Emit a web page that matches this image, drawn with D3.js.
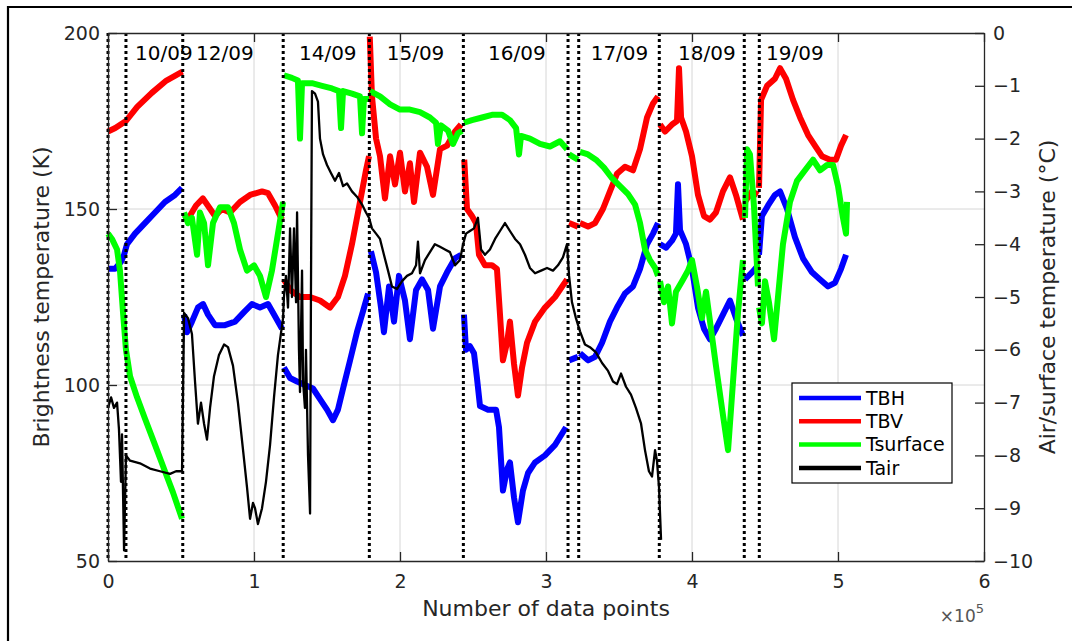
<!DOCTYPE html>
<html><head><meta charset="utf-8">
<script src="https://cdn.jsdelivr.net/npm/d3@7"></script>
<style>body{margin:0;background:#fff}</style>
</head><body>
<svg id="c" width="1072" height="641"></svg>
<script>
// ---------- data ----------
const X_TICKS = [0, 100000, 200000, 300000, 400000, 500000, 600000];
const LEFT_TICKS = [50, 100, 150, 200];
const RIGHT_TICKS = [-10, -9, -8, -7, -6, -5, -4, -3, -2, -1, 0];
const BREAKS = [0, 12300, 51200, 120000, 179000, 243400, 315100, 322400, 377600, 435800, 446100];
const DATE_LABELS = ["10/09", "12/09", "14/09", "15/09", "16/09", "17/09", "18/09", "19/09"];
const DATE_POS = [18500, 60300, 130800, 190900, 260300, 330600, 390400, 450700];
const SERIES_NAMES = ["TBH", "TBV", "Tsurface", "Tair"];

// Brightness temperature H (K), segments
const TBH = [
 [[0,133],[4800,133],[8900,135],[11000,137],[13000,140],[18500,143],[25300,146],[32200,149],[39000,152],[45900,154],[50700,156]],
 [[52100,120],[54100,115],[57500,118],[61600,122],[65100,123],[68500,120],[73300,117],[80100,117],[87000,118],[93800,121],[98600,123],[104100,122],[109600,123],[113700,120],[119200,116]],
 [[120500,105],[124700,102],[129500,101],[134900,100],[140400,99],[145200,96],[150000,93],[154100,90],[157500,93],[161600,100],[165800,107],[170500,115],[174700,121],[178100,126]],
 [[180100,138],[183600,132],[187000,122],[189000,115],[192500,128],[195900,118],[199300,131],[203400,124],[206800,113],[211000,127],[215100,130],[219200,127],[222600,116],[227400,128],[232200,132],[237700,136],[241800,137]],
 [[243800,120],[245200,110],[247900,111],[250700,109],[252700,102],[254800,94],[260300,93],[265800,93],[267800,88],[270500,70],[273300,76],[275300,78],[278100,68],[280800,61],[284200,70],[287700,75],[292500,78],[299300,80],[306200,83],[313700,88]],
 [[315800,107],[321900,108]],
 [[323300,109],[328800,107],[333600,108],[338400,112],[343800,118],[348600,122],[354100,126],[359600,128],[364400,133],[369200,140],[373300,143],[376700,146]],
 [[378100,140],[382200,139],[386300,141],[389000,143],[390400,157],[391800,144],[395900,140],[400000,133],[404100,122],[408200,116],[412300,113],[416400,116],[421200,120],[426000,124],[430100,119],[434900,114]],
 [[436300,130],[441100,132],[445200,134]],
 [[445900,137],[447900,148],[452100,151],[456800,154],[460300,155],[465100,150],[470500,142],[476000,136],[482200,132],[487700,130],[493200,128],[497900,129],[502100,133],[505500,137]]
];

// Brightness temperature V (K), segments
const TBV = [
 [[0,172],[5000,173],[12300,175],[20000,179],[30000,183],[40000,186.5],[51000,189]],
 [[52000,147],[56000,148],[60300,151],[65000,153],[70000,150],[73300,148],[78000,150],[83600,149],[90400,152],[97300,154],[105500,155],[109600,154.5],[114400,151],[119200,147]],
 [[120500,130],[124700,127],[131500,125],[138400,125],[145200,124],[152000,122],[157500,125],[162300,131],[167100,140],[172600,152],[176700,161],[178800,165]],
 [[179300,199],[180800,182],[183600,170],[186300,165],[189700,153],[193200,165],[196600,157],[200000,166],[203400,155],[206800,163],[209600,152],[213700,166],[218500,162],[222600,154],[227400,167],[232200,168],[237700,172],[241800,174]],
 [[244000,164],[245900,150],[249300,148],[252000,146],[254100,137],[258200,134],[263000,134],[266400,133],[268500,120],[270500,107],[273300,112],[275300,118],[278100,106],[280800,97],[283600,105],[287000,112],[292500,118],[299300,122],[306200,125],[314400,130]],
 [[315800,146],[321900,145]],
 [[323300,146],[328800,145],[333600,146],[339000,150],[343800,155],[348600,160],[354100,162],[359600,161],[364400,167],[369200,176],[373300,180],[376700,182]],
 [[378100,174],[381500,172],[386300,174],[389700,175],[391100,190],[392500,176],[395900,172],[400000,165],[404100,154],[408200,148],[412300,147],[416400,149],[421200,155],[426000,159],[430100,154],[434900,147]],
 [[436300,152],[441100,155],[445200,154]],
 [[445900,156],[447300,181],[451400,185],[456800,187],[460300,190],[464400,187],[469200,181],[474000,176],[479500,171],[484200,168],[489000,165],[494500,164],[498600,164],[502100,168],[505500,171]]
];

// Surface temperature (°C), segments
const TSURF = [
 [[0,-3.8],[2700,-3.9],[6200,-4.1],[8200,-4.5],[10300,-5.3],[12300,-6.0],[15100,-6.5],[19900,-6.9],[25300,-7.3],[32200,-7.8],[39000,-8.3],[44500,-8.7],[50700,-9.2]],
 [[52100,-3.4],[54800,-3.6],[57500,-3.5],[61000,-4.2],[63000,-3.4],[65800,-3.6],[68500,-4.4],[71900,-3.6],[76700,-3.3],[82200,-3.3],[86300,-3.6],[90400,-4.1],[95200,-4.5],[100000,-4.4],[104100,-4.6],[108200,-5.0],[112300,-4.5],[116400,-3.8],[119900,-3.2]],
 [[120500,-0.8],[126000,-0.85],[130100,-0.9],[131500,-2.0],[132900,-0.95],[139700,-0.95],[146600,-1.0],[153400,-1.05],[158200,-1.1],[159600,-1.8],[161000,-1.1],[167100,-1.15],[172600,-1.2],[174000,-1.9],[175300,-1.25],[178800,-1.25]],
 [[179500,-1.1],[186300,-1.2],[193200,-1.35],[200000,-1.45],[206800,-1.45],[213700,-1.5],[220500,-1.6],[224700,-1.7],[226000,-2.1],[228100,-1.75],[232900,-1.85],[236300,-2.1],[239700,-1.9],[242500,-1.85]],
 [[243800,-1.7],[249300,-1.65],[256200,-1.6],[263000,-1.55],[269900,-1.55],[275300,-1.65],[279500,-1.8],[281500,-2.3],[282900,-1.95],[289000,-2.0],[295900,-2.1],[302700,-2.15],[309600,-2.05],[314400,-2.2]],
 [[315800,-2.3],[321900,-2.4]],
 [[323300,-2.25],[328800,-2.3],[334200,-2.4],[339700,-2.55],[345200,-2.75],[350700,-2.9],[356200,-3.05],[361000,-3.25],[364400,-3.6],[367800,-4.1],[371200,-4.3],[374700,-4.45],[376700,-4.6]],
 [[378100,-4.7],[380800,-5.1],[383600,-4.8],[386300,-5.5],[389000,-4.9],[393200,-4.7],[397300,-4.5],[400000,-4.3],[403400,-4.8],[406800,-5.4],[409600,-4.9],[413000,-5.6],[416400,-6.3],[420500,-7.1],[424700,-7.9],[428100,-6.6],[431500,-5.3],[434900,-4.3]],
 [[436300,-3.5],[437700,-2.2],[439700,-2.3],[442500,-3.3],[445200,-4.8]],
 [[445900,-5.2],[447900,-5.5],[450000,-4.7],[452700,-5.1],[456200,-5.8],[458900,-5.0],[462300,-4.0],[467100,-3.2],[471900,-2.8],[477400,-2.6],[482900,-2.4],[487700,-2.6],[492500,-2.5],[496600,-2.5],[500000,-2.9],[503400,-3.5],[505500,-3.8],[506200,-3.2]]
];

// Air temperature (°C), continuous
const TAIR = [
 [0,-7.1],[2100,-6.9],[4100,-7.1],[6200,-7.0],[7500,-7.5],[8900,-8.5],[9600,-7.6],[11000,-9.8],[12300,-8.0],[15100,-8.1],[21900,-8.15],[28800,-8.25],[35600,-8.3],[42500,-8.35],[46600,-8.3],[50700,-8.3],
 [52100,-5.3],[54800,-5.4],[57500,-5.7],[59600,-6.6],[61600,-7.4],[63700,-7.0],[65800,-7.4],[67800,-7.7],[69900,-7.1],[72600,-6.5],[76000,-6.1],[79500,-5.9],[82200,-5.95],[85600,-6.3],[89000,-7.0],[92500,-7.9],[95200,-8.6],[97300,-9.2],[99300,-8.9],[100700,-9.0],[102700,-9.3],[105500,-9.0],[108200,-8.5],[111000,-7.8],[113700,-6.9],[116400,-6.1],[119900,-5.4],
 [120500,-5.0],[121900,-4.6],[123300,-5.2],[124700,-3.7],[126000,-5.0],[127400,-3.7],[128800,-5.1],[129500,-3.4],[130800,-6.0],[131500,-6.8],[132900,-4.5],[133600,-6.6],[134900,-7.1],[135600,-6.0],[137000,-8.0],[138400,-9.1],[139000,-5.0],[139700,-1.1],[141800,-1.15],[143800,-1.3],[145200,-2.0],[147300,-2.3],[150000,-2.5],[152700,-2.65],[155500,-2.8],[158200,-2.65],[161000,-2.9],[163700,-2.85],[167100,-3.0],[170500,-3.1],[174000,-3.25],[176700,-3.4],[178800,-3.5],
 [180800,-3.7],[183600,-3.8],[186300,-3.9],[189000,-4.2],[191800,-4.5],[194500,-4.8],[197900,-4.85],[201400,-4.7],[204800,-4.6],[208200,-4.55],[211000,-4.4],[212300,-3.95],[213700,-4.55],[217100,-4.3],[220500,-4.15],[223900,-4.0],[227400,-4.05],[230800,-4.1],[234200,-4.15],[237700,-4.4],[241100,-4.3],[243200,-4.0],
 [245200,-3.8],[247900,-3.75],[250700,-3.7],[253400,-3.5],[255500,-4.1],[258200,-4.2],[261600,-4.1],[265100,-3.9],[268500,-3.75],[271900,-3.6],[275300,-3.75],[278800,-3.9],[282200,-4.0],[285600,-4.2],[289000,-4.45],[292500,-4.55],[296600,-4.5],[300700,-4.45],[304800,-4.5],[308200,-4.4],[311600,-4.25],[314400,-4.0],
 [315800,-4.6],[317800,-5.1],[320500,-5.4],[323300,-5.65],[326700,-5.9],[330100,-5.95],[334200,-6.05],[338400,-6.25],[342500,-6.4],[345900,-6.6],[348600,-6.65],[351400,-6.45],[354800,-6.7],[358200,-6.85],[361600,-7.1],[365100,-7.4],[367800,-7.9],[370500,-8.3],[372600,-8.4],[374700,-7.9],[376000,-8.1],[377400,-8.6],[378800,-9.6]
];

// ---------- drawing ----------
const svg = d3.select('#c');
const FONT = "'DejaVu Sans', sans-serif";
const TXT = '#262626';
const COLORS = {TBH: '#0000ff', TBV: '#ff0000', Tsurface: '#00ff00', Tair: '#000000'};

const x = d3.scaleLinear().domain([0, 600000]).range([108, 984]);
const yL = d3.scaleLinear().domain([50, 200]).range([561, 33]);
const yR = d3.scaleLinear().domain([-10, 0]).range([561, 33]);

// outer frame (left + top only visible)
svg.append('path').attr('d', 'M8,641V7H1072').attr('fill', 'none')
  .attr('stroke', '#000').attr('stroke-width', 2.2);

// grid
const grid = svg.append('g').attr('stroke', '#d6d6d6').attr('stroke-width', 1);
grid.selectAll('line.gx').data(X_TICKS.slice(1, -1)).join('line').attr('class','gx')
  .attr('x1', d => x(d)).attr('x2', d => x(d)).attr('y1', yL(200)).attr('y2', yL(50));
grid.selectAll('line.gy').data(LEFT_TICKS.slice(1, -1)).join('line').attr('class','gy')
  .attr('y1', d => yL(d)).attr('y2', d => yL(d)).attr('x1', x(0)).attr('x2', x(600000));

// series
const lineL = d3.line().x(d => x(d[0])).y(d => yL(d[1]));
const lineR = d3.line().x(d => x(d[0])).y(d => yR(d[1]));
const plot = svg.append('g');
plot.selectAll('path.tbh').data(TBH).join('path').attr('class','tbh').attr('d', lineL)
  .attr('fill', 'none').attr('stroke', COLORS.TBH).attr('stroke-width', 6).attr('stroke-linejoin', 'round');
plot.selectAll('path.tbv').data(TBV).join('path').attr('class','tbv').attr('d', lineL)
  .attr('fill', 'none').attr('stroke', COLORS.TBV).attr('stroke-width', 6).attr('stroke-linejoin', 'round');
plot.selectAll('path.ts').data(TSURF).join('path').attr('class','ts').attr('d', lineR)
  .attr('fill', 'none').attr('stroke', COLORS.Tsurface).attr('stroke-width', 6).attr('stroke-linejoin', 'round');
plot.append('path').datum(TAIR).attr('d', lineR)
  .attr('fill', 'none').attr('stroke', COLORS.Tair).attr('stroke-width', 2.3).attr('stroke-linejoin', 'round');

// dotted separators
svg.append('g').selectAll('line').data(BREAKS).join('line')
  .attr('x1', d => x(d)).attr('x2', d => x(d)).attr('y1', yL(200)).attr('y2', yL(50))
  .attr('stroke', '#000').attr('stroke-width', 3).attr('stroke-dasharray', '3,3');

// date labels
svg.append('g').selectAll('text').data(DATE_LABELS).join('text')
  .attr('x', (d, i) => x(DATE_POS[i])).attr('y', 60)
  .attr('font-family', FONT).attr('font-size', 20).attr('fill', '#000').text(d => d);

// axes
function styleAxis(g) {
  g.select('.domain').attr('stroke', TXT).attr('stroke-width', 1.3);
  g.selectAll('.tick line').attr('stroke', TXT).attr('stroke-width', 1.3);
  g.selectAll('.tick text').attr('fill', TXT).attr('font-family', FONT).attr('font-size', 19);
}
svg.append('g').attr('transform', 'translate(108,0)')
  .call(d3.axisLeft(yL).tickValues(LEFT_TICKS).tickSizeInner(-9).tickSizeOuter(0).tickPadding(8)).call(styleAxis);
svg.append('g').attr('transform', 'translate(0,561)')
  .call(d3.axisBottom(x).tickValues(X_TICKS).tickFormat(d => d / 1e5).tickSizeInner(-9).tickSizeOuter(0).tickPadding(14)).call(styleAxis);
svg.append('g').attr('transform', 'translate(0,33)')
  .call(d3.axisTop(x).tickValues(X_TICKS).tickFormat('').tickSizeInner(-9).tickSizeOuter(0)).call(styleAxis);
svg.append('g').attr('transform', 'translate(984,0)')
  .call(d3.axisRight(yR).tickValues(RIGHT_TICKS).tickSizeInner(-9).tickSizeOuter(0).tickPadding(9)).call(styleAxis);

// axis titles
svg.append('text').attr('transform', 'translate(41,297) rotate(-90)').attr('text-anchor', 'middle')
  .attr('dy', '0.35em').attr('font-family', FONT).attr('font-size', 22).attr('fill', TXT)
  .text('Brightness temperature (K)');
svg.append('text').attr('transform', 'translate(1047,297) rotate(-90)').attr('text-anchor', 'middle')
  .attr('dy', '0.35em').attr('font-family', FONT).attr('font-size', 22).attr('fill', TXT)
  .text('Air/surface temperature (°C)');
svg.append('text').attr('x', 546).attr('y', 616).attr('text-anchor', 'middle')
  .attr('font-family', FONT).attr('font-size', 22).attr('fill', TXT).text('Number of data points');
const ex = svg.append('text').attr('x', 984).attr('y', 622).attr('text-anchor', 'end')
  .attr('font-family', FONT).attr('fill', '#555');
ex.append('tspan').attr('font-size', 17).text('×10');
ex.append('tspan').attr('font-size', 13).attr('dy', -9).text('5');

// legend
const lg = svg.append('g').attr('transform', 'translate(792,383)');
lg.append('rect').attr('width', 160).attr('height', 100).attr('fill', '#fff')
  .attr('stroke', '#000').attr('stroke-width', 1.2);
SERIES_NAMES.forEach((n, i) => {
  const yy = 15 + i * 23.3;
  lg.append('line').attr('x1', 7).attr('x2', 69).attr('y1', yy).attr('y2', yy)
    .attr('stroke', COLORS[n]).attr('stroke-width', 4.5);
  lg.append('text').attr('x', 74).attr('y', yy).attr('dy', '0.36em')
    .attr('font-family', FONT).attr('font-size', 19).attr('fill', '#000').text(n);
});
</script>
</body></html>
